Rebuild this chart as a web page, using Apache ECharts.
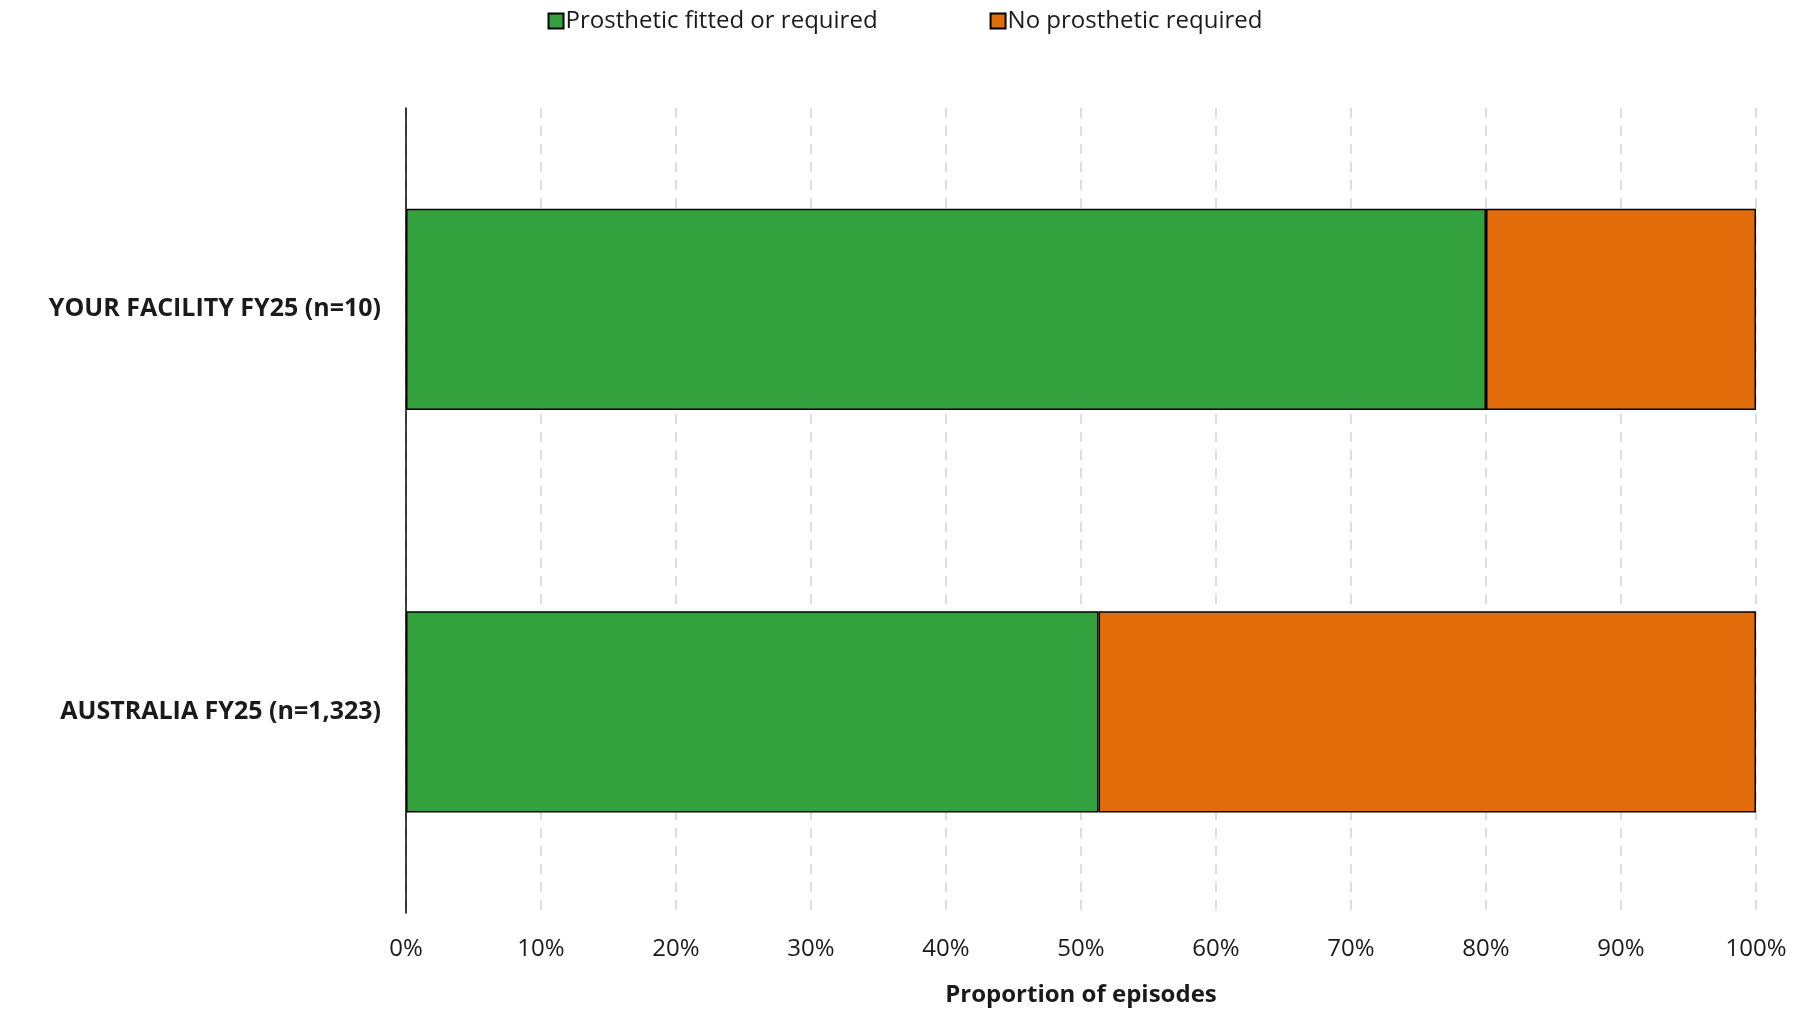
<!DOCTYPE html>
<html>
<head>
<meta charset="utf-8">
<script src="https://cdn.jsdelivr.net/npm/echarts@6/dist/echarts.min.js"></script>
<style>
  html, body { margin: 0; padding: 0; background: #fff; }
  #chart { width: 1810px; height: 1010px; }
</style>
</head>
<body>
<div id="chart"></div>
<script>
const categories = ['YOUR FACILITY FY25 (n=10)', 'AUSTRALIA FY25 (n=1,323)'];
const prostheticFitted = [80, 51.3];
const noProsthetic = [20, 48.7];
const seriesNames = ['Prosthetic fitted or required', 'No prosthetic required'];

const fontFamily = '"Open Sans", Lato, sans-serif';
const myChart = echarts.init(document.getElementById('chart'));

const option = {
    animation: false,
    textStyle: { fontFamily: fontFamily },
    legend: {
        top: 4,
        left: 'center',
        itemGap: 112,
        itemWidth: 15,
        itemHeight: 15,
        icon: 'rect',
        textStyle: { fontSize: 24, color: '#1a1a1a', fontFamily: fontFamily, padding: [0, 0, 0, -3] },
        data: seriesNames
    },
    grid: {
        left: 406,
        right: 54,
        top: 108,
        bottom: 97,
        containLabel: false,
        outerBoundsMode: 'none'
    },
    xAxis: {
        type: 'value',
        min: 0,
        max: 100,
        interval: 10,
        name: 'Proportion of episodes',
        nameLocation: 'middle',
        nameGap: 70,
        nameTextStyle: { fontSize: 24, fontWeight: 'bold', color: '#1a1a1a' },
        axisLine: { show: false },
        axisTick: { show: false },
        axisLabel: {
            fontSize: 24,
            color: '#1a1a1a',
            margin: 24,
            formatter: '{value}%'
        },
        splitLine: {
            show: true,
            lineStyle: { color: '#d4d4d4', type: [10, 8], width: 1.5 }
        }
    },
    yAxis: {
        type: 'category',
        inverse: true,
        data: categories,
        axisLine: { show: true, lineStyle: { color: '#000', width: 1.5 } },
        axisTick: { show: false },
        axisLabel: {
            fontSize: 25,
            fontWeight: 'bold',
            color: '#1a1a1a',
            margin: 25
        }
    },
    series: [
        {
            name: seriesNames[0],
            type: 'bar',
            stack: 'total',
            barCategoryGap: '50%',
            data: prostheticFitted,
            itemStyle: { color: '#33A13D', borderColor: '#000', borderWidth: 1.5 }
        },
        {
            name: seriesNames[1],
            type: 'bar',
            stack: 'total',
            barCategoryGap: '50%',
            data: noProsthetic,
            itemStyle: { color: '#E36C0A', borderColor: '#000', borderWidth: 1.5 }
        }
    ]
};

myChart.setOption(option);
</script>
</body>
</html>
